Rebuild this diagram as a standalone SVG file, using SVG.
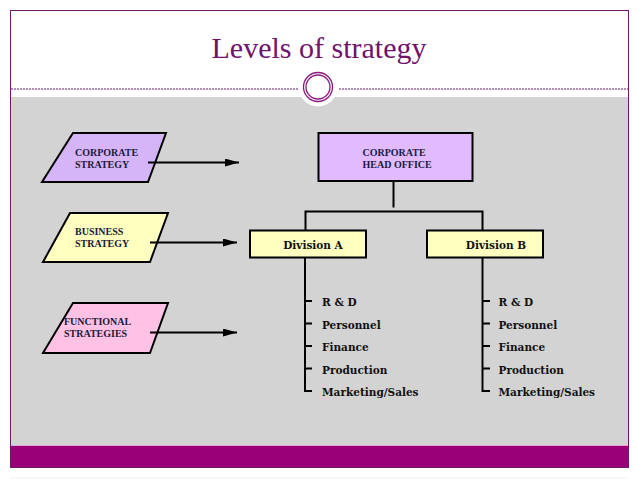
<svg xmlns="http://www.w3.org/2000/svg" width="638" height="479" viewBox="0 0 638 479">
<defs>
<marker id="ah" markerWidth="14" markerHeight="8" refX="14" refY="4" orient="auto" markerUnits="userSpaceOnUse">
<path d="M0,0 L14,4 L0,8 Z" fill="#000"/>
</marker>
<style>
.cap{font-family:"Liberation Serif",serif;font-weight:bold;font-size:10px;fill:#1a1a3a}
.lbl{font-family:"DejaVu Serif",serif;font-weight:bold;font-size:10.5px;fill:#111}
.ln{stroke:#000;stroke-width:2;fill:none}
.shape{stroke:#000;stroke-width:2}
</style>
</defs>
<rect x="0" y="0" width="638" height="479" fill="#fff"/>
<rect x="10" y="97" width="618" height="348" fill="#d3d3d3"/>
<line x1="10" y1="445.5" x2="628" y2="445.5" stroke="#e6a8d8" stroke-width="1"/>
<rect x="10" y="446" width="618" height="21.5" fill="#990078"/>
<rect x="10.5" y="10.5" width="618" height="457" fill="none" stroke="#6a1a66" stroke-width="1"/>
<line x1="10" y1="478" x2="628" y2="478" stroke="#eef0f4" stroke-width="1"/>
<text x="319" y="58" text-anchor="middle" font-family="Liberation Serif, serif" font-size="30" fill="#70136a">Levels of strategy</text>
<line x1="11" y1="89" x2="300" y2="89" stroke="#6a1a66" stroke-width="1" stroke-dasharray="2,1"/>
<line x1="339" y1="89" x2="628" y2="89" stroke="#6a1a66" stroke-width="1" stroke-dasharray="2,1"/>
<circle cx="318" cy="87" r="19.5" fill="#fff"/>
<circle cx="318" cy="87" r="14.5" fill="none" stroke="#8a1a7e" stroke-width="1.3"/>
<circle cx="318" cy="87" r="12" fill="none" stroke="#8a1a7e" stroke-width="1.3"/>

<g id="corporate-strategy">
<polygon class="shape" points="73,133 166,133 148,182 42,182" fill="#d6b4f8"/>
<text class="cap" x="75" y="156">CORPORATE</text>
<text class="cap" x="75" y="167.5">STRATEGY</text>
</g>
<g id="business-strategy">
<polygon class="shape" points="70,213 168,213 150,262 43,262" fill="#ffffc0"/>
<text class="cap" x="75" y="235">BUSINESS</text>
<text class="cap" x="75" y="246.5">STRATEGY</text>
</g>
<g id="functional-strategies">
<polygon class="shape" points="73,303 168,303 150,353 43,353" fill="#ffc2e4"/>
<text class="cap" x="64" y="325">FUNCTIONAL</text>
<text class="cap" x="64" y="336.5">STRATEGIES</text>
</g>
<g id="corporate-head-office">
<rect class="shape" x="318.5" y="133" width="154" height="48" fill="#e2baff"/>
<text class="cap" x="362.5" y="156">CORPORATE</text>
<text class="cap" x="362.5" y="167.5">HEAD OFFICE</text>
</g>
<g id="division-a">
<rect class="shape" x="250" y="230.5" width="116" height="27" fill="#ffffc0"/>
<text class="lbl" x="313" y="249" text-anchor="middle">Division A</text>
</g>
<g id="division-b">
<rect class="shape" x="427" y="230.5" width="116" height="27" fill="#ffffc0"/>
<text class="lbl" x="496" y="249" text-anchor="middle">Division B</text>
</g>
<g id="functions-a">
<text class="lbl" x="322" y="306">R &amp; D</text>
<text class="lbl" x="322" y="328.5">Personnel</text>
<text class="lbl" x="322" y="351">Finance</text>
<text class="lbl" x="322" y="373.5">Production</text>
<text class="lbl" x="322" y="396">Marketing/Sales</text>
</g>
<g id="functions-b">
<text class="lbl" x="498.5" y="306">R &amp; D</text>
<text class="lbl" x="498.5" y="328.5">Personnel</text>
<text class="lbl" x="498.5" y="351">Finance</text>
<text class="lbl" x="498.5" y="373.5">Production</text>
<text class="lbl" x="498.5" y="396">Marketing/Sales</text>
</g>
<g id="connectors">
<line class="ln" x1="148" y1="162.5" x2="239" y2="162.5" marker-end="url(#ah)"/>
<line class="ln" x1="150" y1="242.5" x2="237" y2="242.5" marker-end="url(#ah)"/>
<line class="ln" x1="150" y1="332.5" x2="237" y2="332.5" marker-end="url(#ah)"/>
<line class="ln" x1="393.5" y1="181" x2="393.5" y2="207.5"/>
<polyline class="ln" points="305.5,230.5 305.5,211.5 482.5,211.5 482.5,230.5"/>
<line class="ln" x1="305" y1="257.5" x2="305" y2="392"/>
<line class="ln" x1="482.5" y1="257.5" x2="482.5" y2="392"/>
<path class="ln" d="M305,301 H312 M305,323.5 H312 M305,346 H312 M305,368.5 H312 M305,391 H312"/>
<path class="ln" d="M482.5,301 H490 M482.5,323.5 H490 M482.5,346 H490 M482.5,368.5 H490 M482.5,391 H490"/>
</g>
</svg>
